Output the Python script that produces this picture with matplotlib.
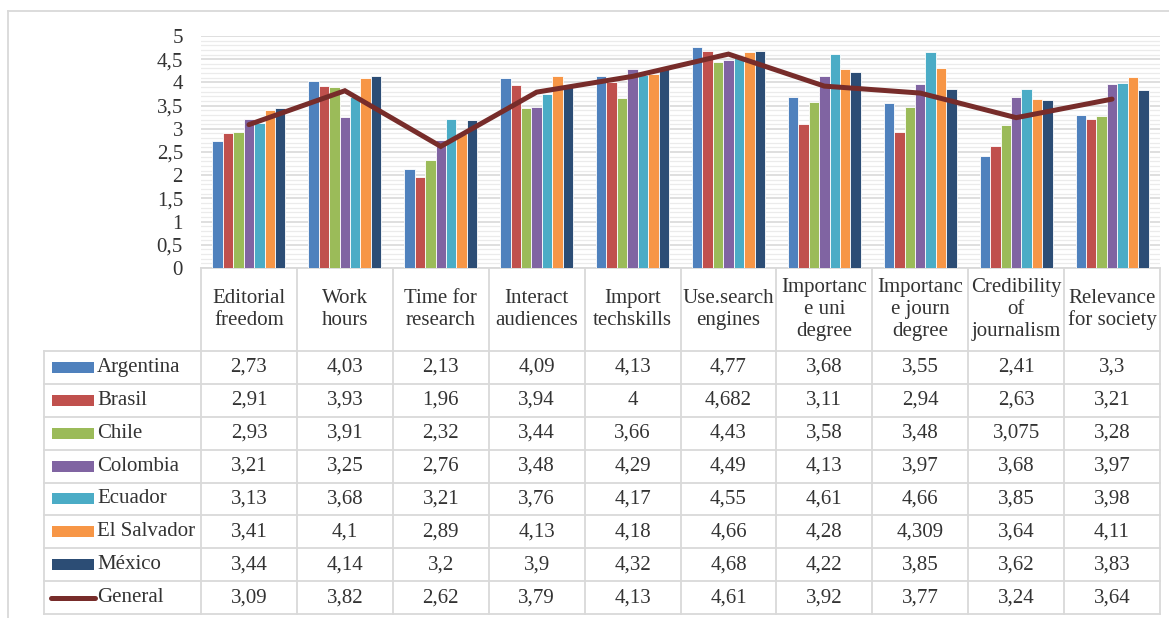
import matplotlib
matplotlib.use("Agg")
import matplotlib.pyplot as plt
from matplotlib.patches import Rectangle
from matplotlib.lines import Line2D
from matplotlib.ticker import MultipleLocator, FuncFormatter

categories = ["Editorial\nfreedom", "Work\nhours", "Time for\nresearch", "Interact\naudiences",
              "Import\ntechskills", "Use.search\nengines", "Importanc\ne uni\ndegree",
              "Importanc\ne journ\ndegree", "Credibility\nof\njournalism", "Relevance\nfor society"]

argentina = [2.73, 4.03, 2.13, 4.09, 4.13, 4.77, 3.68, 3.55, 2.41, 3.3]
brasil = [2.91, 3.93, 1.96, 3.94, 4.0, 4.682, 3.11, 2.94, 2.63, 3.21]
chile = [2.93, 3.91, 2.32, 3.44, 3.66, 4.43, 3.58, 3.48, 3.075, 3.28]
colombia = [3.21, 3.25, 2.76, 3.48, 4.29, 4.49, 4.13, 3.97, 3.68, 3.97]
ecuador = [3.13, 3.68, 3.21, 3.76, 4.17, 4.55, 4.61, 4.66, 3.85, 3.98]
el_salvador = [3.41, 4.1, 2.89, 4.13, 4.18, 4.66, 4.28, 4.309, 3.64, 4.11]
mexico = [3.44, 4.14, 3.2, 3.9, 4.32, 4.68, 4.22, 3.85, 3.62, 3.83]
general = [3.09, 3.82, 2.62, 3.79, 4.13, 4.61, 3.92, 3.77, 3.24, 3.64]

series_names = ["Argentina", "Brasil", "Chile", "Colombia", "Ecuador", "El Salvador", "México"]
series_values = [argentina, brasil, chile, colombia, ecuador, el_salvador, mexico]
series_colors = ["#4F81BD", "#C0504D", "#9BBB59", "#8064A2", "#4BACC6", "#F79646", "#2C4D75"]
general_color = "#772C2A"

FONT = "Liberation Serif"
FS = 15
TXT = "#333333"
GRID = "#d9d9d9"

W, H = 1169, 618
fig = plt.figure(figsize=(W / 100, H / 100), dpi=100)

# outer chart border
fig.add_artist(Line2D([8 / W, 8 / W], [0, 1 - 11 / H], color=GRID, lw=1.3, transform=fig.transFigure))
fig.add_artist(Line2D([8 / W, 1], [1 - 11 / H, 1 - 11 / H], color=GRID, lw=1.3, transform=fig.transFigure))

ax = fig.add_axes([201 / W, (H - 268) / H, 959 / W, 232 / H])
n = len(categories)
x = list(range(n))
nb = len(series_values)
bw = 0.1087
for i, (name, vals, col) in enumerate(zip(series_names, series_values, series_colors)):
    offs = (i - (nb - 1) / 2) * bw
    ax.bar([xi + offs for xi in x], vals, width=bw, color=col, edgecolor="white", linewidth=0.6, zorder=3)
ax.plot(x, general, color=general_color, lw=3.6, solid_capstyle="round", solid_joinstyle="miter", zorder=4)

ax.set_xlim(-0.5, n - 0.5)
ax.set_ylim(0, 5)
ax.yaxis.set_major_locator(MultipleLocator(0.5))
ax.yaxis.set_minor_locator(MultipleLocator(0.1))
ax.yaxis.set_major_formatter(FuncFormatter(lambda v, p: f"{v:g}".replace(".", ",")))
ax.grid(which="major", axis="y", color=GRID, lw=1.2, zorder=0)
ax.grid(which="minor", axis="y", color="#ebebeb", lw=0.9, zorder=0)
ax.set_axisbelow(True)
ax.tick_params(axis="y", which="both", length=0, pad=13, labelsize=FS, labelcolor=TXT)
for lab in ax.get_yticklabels():
    lab.set_fontfamily(FONT)
ax.set_xticks([])
for s in ["top", "right", "left"]:
    ax.spines[s].set_visible(False)
ax.spines["bottom"].set_color(GRID)
ax.spines["bottom"].set_linewidth(1.3)

# data table below axis
tr = ax.get_xaxis_transform()
px = 1 / 232.0
header_bot = -(351 - 268) * px
row_h = (614 - 351) / 8 * px
n_rows = nb + 1
table_bot = header_bot - n_rows * row_h
leg_left = -0.5 - (201 - 44) / 96.0

lkw = dict(color=GRID, lw=1.3, transform=tr, clip_on=False, zorder=1)
for k in range(n + 1):
    ax.add_line(Line2D([k - 0.5, k - 0.5], [0, table_bot], **lkw))
ax.add_line(Line2D([leg_left, leg_left], [header_bot, table_bot], **lkw))
for r in range(n_rows + 1):
    yy = header_bot - r * row_h
    ax.add_line(Line2D([leg_left, n - 0.5], [yy, yy], **lkw))

# header labels
for k, cat in enumerate(categories):
    ax.text(k, header_bot / 2, cat, transform=tr, ha="center", va="center", fontsize=FS,
            family=FONT, color=TXT, linespacing=1.2, clip_on=False)

def fmt(v):
    return f"{v:g}".replace(".", ",")

key_x0 = -0.5 - (201 - 52) / 96.0
key_x1 = -0.5 - (201 - 94) / 96.0
text_x = -0.5 - (201 - 97) / 96.0
all_rows = list(zip(series_names, series_values, series_colors)) + [("General", general, general_color)]
for r, (name, vals, col) in enumerate(all_rows):
    yc = header_bot - (r + 0.5) * row_h
    if name == "General":
        ax.add_line(Line2D([key_x0 - 0.01, key_x1 + 0.01], [yc, yc], color=col, lw=3.6,
                           solid_capstyle="round", transform=tr, clip_on=False))
    else:
        kh = 11 * px
        ax.add_patch(Rectangle((key_x0, yc - kh / 2), key_x1 - key_x0, kh, facecolor=col,
                               edgecolor="none", transform=tr, clip_on=False))
    ax.text(text_x, yc, name, transform=tr, ha="left", va="center", fontsize=FS,
            family=FONT, color=TXT, clip_on=False)
    for k, v in enumerate(vals):
        ax.text(k, yc, fmt(v), transform=tr, ha="center", va="center", fontsize=FS,
                family=FONT, color=TXT, clip_on=False)

fig.savefig("out.png", dpi=100)
